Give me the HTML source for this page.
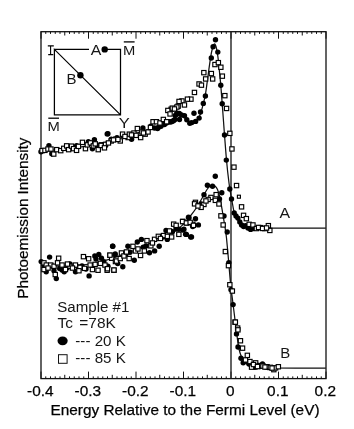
<!DOCTYPE html><html><head><meta charset="utf-8"><style>html,body{margin:0;padding:0;background:#fff;overflow:hidden}svg{display:block;filter:grayscale(1)}text{font-family:"Liberation Sans",sans-serif;fill:#000;stroke:#000;stroke-width:0.25px}text.l{stroke:none;fill:#161616}</style></head><body>
<svg width="354" height="429" viewBox="0 0 354 429"><g opacity="0.999">
<rect x="41.0" y="31.7" width="285.00" height="346.90" fill="none" stroke="#111" stroke-width="1.3"/>
<path d="M41.00 31.7v7M41.00 378.6v-7M45.75 31.7v2.2M45.75 378.6v-2.2M50.50 31.7v2.2M50.50 378.6v-2.2M55.25 31.7v2.2M55.25 378.6v-2.2M60.00 31.7v2.2M60.00 378.6v-2.2M64.75 31.7v3.8M64.75 378.6v-3.8M69.50 31.7v2.2M69.50 378.6v-2.2M74.25 31.7v2.2M74.25 378.6v-2.2M79.00 31.7v2.2M79.00 378.6v-2.2M83.75 31.7v2.2M83.75 378.6v-2.2M88.50 31.7v7M88.50 378.6v-7M93.25 31.7v2.2M93.25 378.6v-2.2M98.00 31.7v2.2M98.00 378.6v-2.2M102.75 31.7v2.2M102.75 378.6v-2.2M107.50 31.7v2.2M107.50 378.6v-2.2M112.25 31.7v3.8M112.25 378.6v-3.8M117.00 31.7v2.2M117.00 378.6v-2.2M121.75 31.7v2.2M121.75 378.6v-2.2M126.50 31.7v2.2M126.50 378.6v-2.2M131.25 31.7v2.2M131.25 378.6v-2.2M136.00 31.7v7M136.00 378.6v-7M140.75 31.7v2.2M140.75 378.6v-2.2M145.50 31.7v2.2M145.50 378.6v-2.2M150.25 31.7v2.2M150.25 378.6v-2.2M155.00 31.7v2.2M155.00 378.6v-2.2M159.75 31.7v3.8M159.75 378.6v-3.8M164.50 31.7v2.2M164.50 378.6v-2.2M169.25 31.7v2.2M169.25 378.6v-2.2M174.00 31.7v2.2M174.00 378.6v-2.2M178.75 31.7v2.2M178.75 378.6v-2.2M183.50 31.7v7M183.50 378.6v-7M188.25 31.7v2.2M188.25 378.6v-2.2M193.00 31.7v2.2M193.00 378.6v-2.2M197.75 31.7v2.2M197.75 378.6v-2.2M202.50 31.7v2.2M202.50 378.6v-2.2M207.25 31.7v3.8M207.25 378.6v-3.8M212.00 31.7v2.2M212.00 378.6v-2.2M216.75 31.7v2.2M216.75 378.6v-2.2M221.50 31.7v2.2M221.50 378.6v-2.2M226.25 31.7v2.2M226.25 378.6v-2.2M231.00 31.7v7M231.00 378.6v-7M235.75 31.7v2.2M235.75 378.6v-2.2M240.50 31.7v2.2M240.50 378.6v-2.2M245.25 31.7v2.2M245.25 378.6v-2.2M250.00 31.7v2.2M250.00 378.6v-2.2M254.75 31.7v3.8M254.75 378.6v-3.8M259.50 31.7v2.2M259.50 378.6v-2.2M264.25 31.7v2.2M264.25 378.6v-2.2M269.00 31.7v2.2M269.00 378.6v-2.2M273.75 31.7v2.2M273.75 378.6v-2.2M278.50 31.7v7M278.50 378.6v-7M283.25 31.7v2.2M283.25 378.6v-2.2M288.00 31.7v2.2M288.00 378.6v-2.2M292.75 31.7v2.2M292.75 378.6v-2.2M297.50 31.7v2.2M297.50 378.6v-2.2M302.25 31.7v3.8M302.25 378.6v-3.8M307.00 31.7v2.2M307.00 378.6v-2.2M311.75 31.7v2.2M311.75 378.6v-2.2M316.50 31.7v2.2M316.50 378.6v-2.2M321.25 31.7v2.2M321.25 378.6v-2.2M326.00 31.7v7M326.00 378.6v-7" stroke="#111" stroke-width="1" fill="none"/>
<path d="M231.00 31.7V378.6" stroke="#222" stroke-width="1.4"/>
<path d="M41.3 151.0C44.4 150.8 53.5 150.2 60.0 149.5C66.5 148.8 73.3 148.0 80.0 147.0C86.7 146.0 93.0 145.1 100.0 143.5C107.0 141.9 114.5 139.7 122.0 137.5C129.5 135.3 139.0 132.4 145.0 130.5C151.0 128.6 153.8 127.6 158.0 126.0C162.2 124.4 167.0 122.6 170.0 121.0C173.0 119.4 174.3 117.5 176.0 116.5C177.7 115.5 178.7 114.7 180.0 114.8C181.3 114.9 182.7 116.0 184.0 117.0C185.3 118.0 186.7 120.0 188.0 121.0C189.3 122.0 190.7 122.7 192.0 122.8C193.3 122.9 194.7 122.8 196.0 121.5C197.3 120.2 198.8 117.8 200.0 115.0C201.2 112.2 202.1 108.5 203.0 105.0C203.9 101.5 204.7 98.8 205.5 94.0C206.3 89.2 207.2 82.0 208.0 76.0C208.8 70.0 209.8 62.7 210.5 58.0C211.2 53.3 211.9 50.3 212.5 48.0C213.1 45.7 213.6 44.2 214.2 44.0C214.8 43.8 215.4 44.5 216.0 46.5C216.6 48.5 217.2 51.8 217.8 56.0C218.4 60.2 219.0 66.7 219.5 72.0C220.0 77.3 220.6 82.8 221.0 88.0C221.4 93.2 221.6 95.7 222.2 103.5C222.8 111.3 223.8 125.6 224.5 135.0C225.2 144.4 225.8 152.0 226.5 160.0C227.2 168.0 228.3 177.5 229.0 183.0C229.7 188.5 230.0 190.0 230.5 193.0C231.0 196.0 231.4 197.9 232.0 201.0C232.6 204.1 233.2 208.8 234.0 211.5C234.8 214.2 235.5 215.7 236.5 217.5C237.5 219.3 238.8 221.2 240.0 222.5C241.2 223.8 242.3 224.7 244.0 225.5C245.7 226.3 247.7 227.1 250.0 227.5C252.3 227.9 245.4 228.1 258.0 228.2C270.6 228.3 314.5 228.2 325.8 228.2" stroke="#111" stroke-width="1.25" fill="none"/>
<path d="M41.3 265.5C46.1 265.6 61.0 266.4 70.0 266.0C79.0 265.6 88.3 264.2 95.0 263.0C101.7 261.8 104.2 260.8 110.0 259.0C115.8 257.2 122.3 255.0 130.0 252.0C137.7 249.0 148.5 244.5 156.0 241.0C163.5 237.5 170.5 233.8 175.0 231.0C179.5 228.2 180.5 226.9 183.0 224.5C185.5 222.1 187.7 219.4 190.0 216.5C192.3 213.6 194.8 210.3 197.0 207.0C199.2 203.7 201.3 199.4 203.0 196.5C204.7 193.6 205.8 191.2 207.0 189.5C208.2 187.8 209.1 186.7 210.0 186.0C210.9 185.3 211.7 185.2 212.5 185.2C213.3 185.2 214.2 185.3 215.0 186.0C215.8 186.7 216.7 187.5 217.5 189.5C218.3 191.5 219.2 194.2 220.0 198.0C220.8 201.8 221.7 207.3 222.5 212.0C223.3 216.7 224.1 221.7 224.8 226.0C225.5 230.3 225.9 232.2 226.5 238.0C227.1 243.8 228.0 253.8 228.6 261.0C229.2 268.2 229.8 275.8 230.3 281.0C230.8 286.2 231.0 287.8 231.5 292.0C232.0 296.2 232.6 300.7 233.3 306.0C234.0 311.3 234.8 318.7 235.5 324.0C236.2 329.3 236.7 333.8 237.3 338.0C237.9 342.2 238.3 345.8 239.0 349.0C239.7 352.2 240.6 354.8 241.5 357.0C242.4 359.2 243.2 360.6 244.5 362.0C245.8 363.4 247.1 364.4 249.0 365.3C250.9 366.2 253.2 366.8 256.0 367.2C258.8 367.6 254.4 367.8 266.0 368.0C277.6 368.2 315.8 368.2 325.8 368.2" stroke="#111" stroke-width="1.25" fill="none"/>
<g fill="#000"><circle cx="215.5" cy="39.8" r="2.7"/><circle cx="213.1" cy="46.8" r="2.7"/><circle cx="217.8" cy="52.1" r="2.7"/><circle cx="211.3" cy="58.0" r="2.7"/><circle cx="220.8" cy="85.2" r="2.7"/><circle cx="205.4" cy="96.0" r="2.7"/><circle cx="203.3" cy="103.4" r="2.7"/><circle cx="222.2" cy="103.7" r="2.7"/><circle cx="200.5" cy="112.0" r="2.7"/><circle cx="194.0" cy="113.2" r="2.7"/><circle cx="199.1" cy="118.1" r="2.7"/><circle cx="195.6" cy="121.4" r="2.7"/><circle cx="189.8" cy="123.2" r="2.7"/><circle cx="184.5" cy="115.8" r="2.7"/><circle cx="186.8" cy="119.7" r="2.7"/><circle cx="179.3" cy="113.4" r="2.7"/><circle cx="176.8" cy="113.0" r="2.7"/><circle cx="174.7" cy="119.7" r="2.7"/><circle cx="172.0" cy="121.5" r="2.7"/><circle cx="224.5" cy="135.0" r="2.7"/><circle cx="226.3" cy="160.1" r="2.7"/><circle cx="229.8" cy="189.0" r="2.7"/><circle cx="231.5" cy="199.0" r="2.7"/><circle cx="234.2" cy="213.0" r="2.7"/><circle cx="237.9" cy="218.1" r="2.7"/><circle cx="241.6" cy="224.9" r="2.7"/><circle cx="245.5" cy="225.7" r="2.7"/><circle cx="250.6" cy="229.4" r="2.7"/><circle cx="236.0" cy="216.0" r="2.7"/><circle cx="239.8" cy="222.0" r="2.7"/><circle cx="243.6" cy="226.5" r="2.7"/><circle cx="248.0" cy="228.0" r="2.7"/><circle cx="253.0" cy="228.5" r="2.7"/><circle cx="41.0" cy="151.7" r="2.7"/><circle cx="48.9" cy="145.8" r="2.7"/><circle cx="51.8" cy="153.7" r="2.7"/><circle cx="76.6" cy="145.8" r="2.7"/><circle cx="88.4" cy="141.8" r="2.7"/><circle cx="94.4" cy="139.8" r="2.7"/><circle cx="92.4" cy="148.7" r="2.7"/><circle cx="97.3" cy="145.8" r="2.7"/><circle cx="107.2" cy="133.9" r="2.7"/><circle cx="107.9" cy="133.8" r="2.7"/><circle cx="111.3" cy="139.2" r="2.7"/><circle cx="117.0" cy="137.6" r="2.7"/><circle cx="122.6" cy="135.3" r="2.7"/><circle cx="131.6" cy="139.2" r="2.7"/><circle cx="142.9" cy="127.9" r="2.7"/><circle cx="150.8" cy="126.3" r="2.7"/><circle cx="157.6" cy="128.6" r="2.7"/><circle cx="161.0" cy="126.3" r="2.7"/><circle cx="168.9" cy="121.8" r="2.7"/><circle cx="173.4" cy="120.7" r="2.7"/><circle cx="178.0" cy="113.9" r="2.7"/><circle cx="179.5" cy="119.5" r="2.7"/><circle cx="154.5" cy="128.0" r="2.7"/><circle cx="164.5" cy="124.5" r="2.7"/><circle cx="160.8" cy="124.9" r="2.7"/><circle cx="163.2" cy="124.0" r="2.7"/><circle cx="158.5" cy="127.3" r="2.7"/><circle cx="175.3" cy="115.5" r="2.7"/><circle cx="166.5" cy="123.0" r="2.7"/><circle cx="170.5" cy="122.0" r="2.7"/><circle cx="181.5" cy="115.0" r="2.7"/><circle cx="191.8" cy="122.6" r="2.7"/><circle cx="215.3" cy="176.3" r="2.7"/><circle cx="207.4" cy="185.3" r="2.7"/><circle cx="212.5" cy="186.2" r="2.7"/><circle cx="221.8" cy="192.7" r="2.7"/><circle cx="204.0" cy="194.7" r="2.7"/><circle cx="219.5" cy="198.9" r="2.7"/><circle cx="188.5" cy="217.3" r="2.7"/><circle cx="195.5" cy="218.7" r="2.7"/><circle cx="198.4" cy="224.9" r="2.7"/><circle cx="192.7" cy="226.6" r="2.7"/><circle cx="182.8" cy="230.0" r="2.7"/><circle cx="185.6" cy="234.2" r="2.7"/><circle cx="190.7" cy="237.0" r="2.7"/><circle cx="227.2" cy="232.0" r="2.7"/><circle cx="228.8" cy="262.6" r="2.7"/><circle cx="231.0" cy="289.8" r="2.7"/><circle cx="233.1" cy="304.6" r="2.7"/><circle cx="236.5" cy="333.9" r="2.7"/><circle cx="238.0" cy="347.0" r="2.7"/><circle cx="241.0" cy="358.3" r="2.7"/><circle cx="243.2" cy="362.8" r="2.7"/><circle cx="246.0" cy="360.6" r="2.7"/><circle cx="254.5" cy="367.3" r="2.7"/><circle cx="258.0" cy="365.5" r="2.7"/><circle cx="262.5" cy="364.0" r="2.7"/><circle cx="265.8" cy="366.7" r="2.7"/><circle cx="270.4" cy="367.8" r="2.7"/><circle cx="249.0" cy="364.0" r="2.7"/><circle cx="251.5" cy="366.0" r="2.7"/><circle cx="256.5" cy="367.0" r="2.7"/><circle cx="260.0" cy="366.5" r="2.7"/><circle cx="263.5" cy="366.0" r="2.7"/><circle cx="268.0" cy="367.5" r="2.7"/><circle cx="272.5" cy="368.0" r="2.7"/><circle cx="41.2" cy="261.6" r="2.7"/><circle cx="49.6" cy="257.1" r="2.7"/><circle cx="46.2" cy="271.8" r="2.7"/><circle cx="56.3" cy="278.6" r="2.7"/><circle cx="54.0" cy="270.7" r="2.7"/><circle cx="59.7" cy="268.4" r="2.7"/><circle cx="64.2" cy="271.8" r="2.7"/><circle cx="70.0" cy="263.9" r="2.7"/><circle cx="75.5" cy="271.8" r="2.7"/><circle cx="89.1" cy="275.9" r="2.7"/><circle cx="94.8" cy="256.0" r="2.7"/><circle cx="98.8" cy="254.4" r="2.7"/><circle cx="101.5" cy="258.2" r="2.7"/><circle cx="103.8" cy="261.6" r="2.7"/><circle cx="107.9" cy="266.2" r="2.7"/><circle cx="112.8" cy="246.3" r="2.7"/><circle cx="115.0" cy="254.9" r="2.7"/><circle cx="112.6" cy="246.3" r="2.7"/><circle cx="115.2" cy="254.0" r="2.7"/><circle cx="117.7" cy="263.6" r="2.7"/><circle cx="122.8" cy="266.7" r="2.7"/><circle cx="127.9" cy="246.3" r="2.7"/><circle cx="130.0" cy="252.2" r="2.7"/><circle cx="134.3" cy="260.3" r="2.7"/><circle cx="137.3" cy="242.0" r="2.7"/><circle cx="141.4" cy="239.4" r="2.7"/><circle cx="143.2" cy="247.1" r="2.7"/><circle cx="149.5" cy="252.7" r="2.7"/><circle cx="154.6" cy="250.9" r="2.7"/><circle cx="159.2" cy="246.3" r="2.7"/><circle cx="166.0" cy="230.5" r="2.7"/><circle cx="167.3" cy="239.4" r="2.7"/><circle cx="172.4" cy="231.8" r="2.7"/><circle cx="178.8" cy="229.3" r="2.7"/><circle cx="183.9" cy="229.3" r="2.7"/><circle cx="186.4" cy="234.4" r="2.7"/><circle cx="191.5" cy="236.9" r="2.7"/><circle cx="189.0" cy="217.8" r="2.7"/><circle cx="44.0" cy="266.0" r="2.7"/><circle cx="52.0" cy="266.0" r="2.7"/><circle cx="62.0" cy="270.0" r="2.7"/><circle cx="67.0" cy="268.0" r="2.7"/><circle cx="78.0" cy="267.0" r="2.7"/><circle cx="82.0" cy="266.0" r="2.7"/><circle cx="86.0" cy="269.0" r="2.7"/><circle cx="96.0" cy="259.0" r="2.7"/><circle cx="126.0" cy="254.0" r="2.7"/><circle cx="146.0" cy="246.0" r="2.7"/><circle cx="163.0" cy="237.0" r="2.7"/><circle cx="176.0" cy="229.0" r="2.7"/><circle cx="201.0" cy="204.0" r="2.7"/><circle cx="224.0" cy="216.0" r="2.7"/></g>
<g fill="#fff" stroke="#000" stroke-width="1.15"><rect x="212.8" y="62.4" width="4.3" height="4.3"/><rect x="216.2" y="60.5" width="4.3" height="4.3"/><rect x="218.7" y="65.1" width="4.3" height="4.3"/><rect x="201.7" y="70.5" width="4.3" height="4.3"/><rect x="209.2" y="71.4" width="4.3" height="4.3"/><rect x="220.2" y="74.0" width="4.3" height="4.3"/><rect x="203.5" y="76.8" width="4.3" height="4.3"/><rect x="210.5" y="76.8" width="4.3" height="4.3"/><rect x="196.9" y="81.8" width="4.3" height="4.3"/><rect x="199.3" y="83.0" width="4.3" height="4.3"/><rect x="192.3" y="90.3" width="4.3" height="4.3"/><rect x="222.7" y="93.5" width="4.3" height="4.3"/><rect x="188.8" y="97.0" width="4.3" height="4.3"/><rect x="185.3" y="97.0" width="4.3" height="4.3"/><rect x="179.8" y="98.8" width="4.3" height="4.3"/><rect x="182.3" y="102.8" width="4.3" height="4.3"/><rect x="176.0" y="104.0" width="4.3" height="4.3"/><rect x="224.4" y="106.3" width="4.3" height="4.3"/><rect x="169.0" y="107.1" width="4.3" height="4.3"/><rect x="227.7" y="131.2" width="4.3" height="4.3"/><rect x="229.8" y="146.8" width="4.3" height="4.3"/><rect x="231.8" y="165.0" width="4.3" height="4.3"/><rect x="234.4" y="183.4" width="4.3" height="4.3"/><rect x="239.4" y="204.7" width="4.3" height="4.3"/><rect x="241.4" y="213.2" width="4.3" height="4.3"/><rect x="244.2" y="216.5" width="4.3" height="4.3"/><rect x="247.0" y="222.2" width="4.3" height="4.3"/><rect x="250.8" y="222.8" width="4.3" height="4.3"/><rect x="254.2" y="226.4" width="4.3" height="4.3"/><rect x="258.4" y="225.5" width="4.3" height="4.3"/><rect x="262.6" y="226.4" width="4.3" height="4.3"/><rect x="266.2" y="223.5" width="4.3" height="4.3"/><rect x="267.7" y="228.3" width="4.3" height="4.3"/><rect x="256.4" y="225.3" width="4.3" height="4.3"/><rect x="260.4" y="226.3" width="4.3" height="4.3"/><rect x="264.4" y="225.8" width="4.3" height="4.3"/><rect x="39.9" y="148.5" width="4.3" height="4.3"/><rect x="42.8" y="148.2" width="4.3" height="4.3"/><rect x="45.8" y="146.9" width="4.3" height="4.3"/><rect x="48.8" y="146.9" width="4.3" height="4.3"/><rect x="51.6" y="151.9" width="4.3" height="4.3"/><rect x="54.6" y="147.5" width="4.3" height="4.3"/><rect x="58.6" y="148.5" width="4.3" height="4.3"/><rect x="61.6" y="146.2" width="4.3" height="4.3"/><rect x="64.5" y="143.7" width="4.3" height="4.3"/><rect x="66.5" y="147.5" width="4.3" height="4.3"/><rect x="69.4" y="144.0" width="4.3" height="4.3"/><rect x="71.4" y="146.5" width="4.3" height="4.3"/><rect x="74.4" y="148.2" width="4.3" height="4.3"/><rect x="76.3" y="144.2" width="4.3" height="4.3"/><rect x="80.3" y="140.2" width="4.3" height="4.3"/><rect x="83.3" y="146.5" width="4.3" height="4.3"/><rect x="85.2" y="142.7" width="4.3" height="4.3"/><rect x="88.2" y="140.7" width="4.3" height="4.3"/><rect x="91.2" y="143.7" width="4.3" height="4.3"/><rect x="93.1" y="141.7" width="4.3" height="4.3"/><rect x="96.1" y="147.5" width="4.3" height="4.3"/><rect x="99.1" y="142.7" width="4.3" height="4.3"/><rect x="103.0" y="142.7" width="4.3" height="4.3"/><rect x="98.9" y="143.3" width="4.3" height="4.3"/><rect x="103.4" y="142.2" width="4.3" height="4.3"/><rect x="102.3" y="145.7" width="4.3" height="4.3"/><rect x="109.1" y="138.8" width="4.3" height="4.3"/><rect x="113.6" y="137.0" width="4.3" height="4.3"/><rect x="118.1" y="138.8" width="4.3" height="4.3"/><rect x="120.4" y="132.0" width="4.3" height="4.3"/><rect x="126.0" y="135.4" width="4.3" height="4.3"/><rect x="127.2" y="132.0" width="4.3" height="4.3"/><rect x="131.8" y="130.9" width="4.3" height="4.3"/><rect x="135.2" y="126.4" width="4.3" height="4.3"/><rect x="134.0" y="133.2" width="4.3" height="4.3"/><rect x="138.5" y="135.4" width="4.3" height="4.3"/><rect x="139.7" y="129.8" width="4.3" height="4.3"/><rect x="143.0" y="132.0" width="4.3" height="4.3"/><rect x="145.9" y="129.8" width="4.3" height="4.3"/><rect x="150.9" y="119.6" width="4.3" height="4.3"/><rect x="154.3" y="119.6" width="4.3" height="4.3"/><rect x="157.8" y="120.8" width="4.3" height="4.3"/><rect x="161.2" y="117.3" width="4.3" height="4.3"/><rect x="164.5" y="119.6" width="4.3" height="4.3"/><rect x="165.7" y="108.3" width="4.3" height="4.3"/><rect x="167.9" y="111.8" width="4.3" height="4.3"/><rect x="170.2" y="106.0" width="4.3" height="4.3"/><rect x="174.7" y="104.9" width="4.3" height="4.3"/><rect x="176.9" y="99.3" width="4.3" height="4.3"/><rect x="106.3" y="140.8" width="4.3" height="4.3"/><rect x="111.3" y="137.8" width="4.3" height="4.3"/><rect x="115.8" y="137.3" width="4.3" height="4.3"/><rect x="122.8" y="134.3" width="4.3" height="4.3"/><rect x="129.3" y="132.8" width="4.3" height="4.3"/><rect x="141.3" y="130.8" width="4.3" height="4.3"/><rect x="148.3" y="125.3" width="4.3" height="4.3"/><rect x="172.3" y="106.8" width="4.3" height="4.3"/><rect x="214.0" y="192.5" width="4.3" height="4.3"/><rect x="208.8" y="195.3" width="4.3" height="4.3"/><rect x="193.3" y="200.2" width="4.3" height="4.3"/><rect x="213.2" y="198.2" width="4.3" height="4.3"/><rect x="206.0" y="197.3" width="4.3" height="4.3"/><rect x="216.8" y="201.8" width="4.3" height="4.3"/><rect x="201.8" y="202.3" width="4.3" height="4.3"/><rect x="199.0" y="205.2" width="4.3" height="4.3"/><rect x="218.8" y="213.7" width="4.3" height="4.3"/><rect x="221.0" y="222.8" width="4.3" height="4.3"/><rect x="180.7" y="219.3" width="4.3" height="4.3"/><rect x="184.8" y="220.8" width="4.3" height="4.3"/><rect x="190.5" y="222.2" width="4.3" height="4.3"/><rect x="223.2" y="249.4" width="4.3" height="4.3"/><rect x="226.3" y="263.5" width="4.3" height="4.3"/><rect x="227.7" y="282.6" width="4.3" height="4.3"/><rect x="230.2" y="288.9" width="4.3" height="4.3"/><rect x="232.9" y="320.0" width="4.3" height="4.3"/><rect x="235.5" y="325.9" width="4.3" height="4.3"/><rect x="233.2" y="320.0" width="4.3" height="4.3"/><rect x="235.8" y="327.7" width="4.3" height="4.3"/><rect x="238.3" y="338.6" width="4.3" height="4.3"/><rect x="240.4" y="346.0" width="4.3" height="4.3"/><rect x="245.2" y="353.2" width="4.3" height="4.3"/><rect x="243.3" y="357.8" width="4.3" height="4.3"/><rect x="247.8" y="359.4" width="4.3" height="4.3"/><rect x="249.4" y="365.0" width="4.3" height="4.3"/><rect x="253.5" y="360.7" width="4.3" height="4.3"/><rect x="256.9" y="363.4" width="4.3" height="4.3"/><rect x="260.8" y="363.9" width="4.3" height="4.3"/><rect x="264.9" y="364.6" width="4.3" height="4.3"/><rect x="268.2" y="365.2" width="4.3" height="4.3"/><rect x="271.7" y="367.5" width="4.3" height="4.3"/><rect x="273.5" y="365.7" width="4.3" height="4.3"/><rect x="276.2" y="364.6" width="4.3" height="4.3"/><rect x="251.3" y="362.4" width="4.3" height="4.3"/><rect x="255.3" y="364.4" width="4.3" height="4.3"/><rect x="262.8" y="364.9" width="4.3" height="4.3"/><rect x="269.9" y="365.9" width="4.3" height="4.3"/><rect x="41.8" y="260.7" width="4.3" height="4.3"/><rect x="44.1" y="262.9" width="4.3" height="4.3"/><rect x="41.8" y="267.4" width="4.3" height="4.3"/><rect x="48.6" y="262.9" width="4.3" height="4.3"/><rect x="51.9" y="264.1" width="4.3" height="4.3"/><rect x="56.5" y="256.1" width="4.3" height="4.3"/><rect x="55.4" y="260.7" width="4.3" height="4.3"/><rect x="53.1" y="272.4" width="4.3" height="4.3"/><rect x="59.9" y="262.9" width="4.3" height="4.3"/><rect x="63.3" y="267.4" width="4.3" height="4.3"/><rect x="67.8" y="264.1" width="4.3" height="4.3"/><rect x="73.3" y="262.9" width="4.3" height="4.3"/><rect x="77.8" y="265.2" width="4.3" height="4.3"/><rect x="76.8" y="268.6" width="4.3" height="4.3"/><rect x="82.4" y="266.2" width="4.3" height="4.3"/><rect x="81.3" y="254.5" width="4.3" height="4.3"/><rect x="86.5" y="256.6" width="4.3" height="4.3"/><rect x="88.0" y="262.9" width="4.3" height="4.3"/><rect x="90.3" y="267.4" width="4.3" height="4.3"/><rect x="93.0" y="262.2" width="4.3" height="4.3"/><rect x="95.9" y="268.1" width="4.3" height="4.3"/><rect x="98.2" y="261.2" width="4.3" height="4.3"/><rect x="102.8" y="262.9" width="4.3" height="4.3"/><rect x="105.0" y="268.1" width="4.3" height="4.3"/><rect x="107.8" y="253.2" width="4.3" height="4.3"/><rect x="109.5" y="256.1" width="4.3" height="4.3"/><rect x="111.8" y="268.1" width="4.3" height="4.3"/><rect x="113.3" y="259.4" width="4.3" height="4.3"/><rect x="105.3" y="266.6" width="4.3" height="4.3"/><rect x="107.8" y="253.0" width="4.3" height="4.3"/><rect x="111.8" y="267.9" width="4.3" height="4.3"/><rect x="114.3" y="258.9" width="4.3" height="4.3"/><rect x="119.3" y="250.8" width="4.3" height="4.3"/><rect x="118.1" y="256.4" width="4.3" height="4.3"/><rect x="127.0" y="256.4" width="4.3" height="4.3"/><rect x="130.8" y="244.2" width="4.3" height="4.3"/><rect x="133.3" y="248.8" width="4.3" height="4.3"/><rect x="138.4" y="253.3" width="4.3" height="4.3"/><rect x="142.2" y="248.8" width="4.3" height="4.3"/><rect x="144.8" y="238.5" width="4.3" height="4.3"/><rect x="148.7" y="243.7" width="4.3" height="4.3"/><rect x="152.4" y="237.2" width="4.3" height="4.3"/><rect x="156.2" y="234.2" width="4.3" height="4.3"/><rect x="161.3" y="233.4" width="4.3" height="4.3"/><rect x="165.2" y="234.2" width="4.3" height="4.3"/><rect x="169.5" y="234.8" width="4.3" height="4.3"/><rect x="171.5" y="222.0" width="4.3" height="4.3"/><rect x="174.0" y="223.2" width="4.3" height="4.3"/><rect x="176.7" y="232.2" width="4.3" height="4.3"/><rect x="180.4" y="219.4" width="4.3" height="4.3"/><rect x="184.2" y="220.8" width="4.3" height="4.3"/><rect x="188.0" y="220.2" width="4.3" height="4.3"/><rect x="191.3" y="223.2" width="4.3" height="4.3"/><rect x="192.4" y="201.7" width="4.3" height="4.3"/><rect x="45.9" y="265.9" width="4.3" height="4.3"/><rect x="65.3" y="261.9" width="4.3" height="4.3"/><rect x="70.3" y="265.9" width="4.3" height="4.3"/><rect x="121.8" y="253.8" width="4.3" height="4.3"/><rect x="124.3" y="249.8" width="4.3" height="4.3"/><rect x="135.8" y="246.8" width="4.3" height="4.3"/><rect x="150.3" y="240.8" width="4.3" height="4.3"/><rect x="158.3" y="236.3" width="4.3" height="4.3"/><rect x="167.3" y="228.8" width="4.3" height="4.3"/><rect x="195.8" y="203.8" width="4.3" height="4.3"/><rect x="203.8" y="198.8" width="4.3" height="4.3"/><rect x="237.4" y="195.2" width="3" height="3"/></g>
<text x="40.30" y="395.7" font-size="15.4" text-anchor="middle">-0.4</text>
<text x="87.80" y="395.7" font-size="15.4" text-anchor="middle">-0.3</text>
<text x="135.30" y="395.7" font-size="15.4" text-anchor="middle">-0.2</text>
<text x="182.80" y="395.7" font-size="15.4" text-anchor="middle">-0.1</text>
<text x="230.30" y="395.7" font-size="15.4" text-anchor="middle">0</text>
<text x="277.80" y="395.7" font-size="15.4" text-anchor="middle">0.1</text>
<text x="325.30" y="395.7" font-size="15.4" text-anchor="middle">0.2</text>
<text x="50.5" y="414.6" font-size="15.4" textLength="269" lengthAdjust="spacingAndGlyphs">Energy Relative to the Fermi Level (eV)</text>
<text transform="translate(28.2,298.8) rotate(-90)" font-size="15.4" textLength="161.3" lengthAdjust="spacingAndGlyphs">Photoemission Intensity</text>
<path d="M54.4 49.4H89M104.7 49.4H120.5V114.9H54.4V49.4L120.5 114.9" stroke="#000" stroke-width="1.25" fill="none"/>
<circle cx="104.7" cy="49.4" r="3.2"/><circle cx="80.4" cy="75.2" r="3.2"/>
<path d="M47.8 45.9H53.8M50.6 45.9V54.6M48.2 54.6H53.3" stroke="#000" stroke-width="1.1" fill="none"/>
<text class="l" x="90.7" y="54.7" font-size="14.6" textLength="10.6" lengthAdjust="spacingAndGlyphs">A</text>
<text class="l" x="66.6" y="84" font-size="14.6" textLength="10" lengthAdjust="spacingAndGlyphs">B</text>
<text class="l" x="123" y="54.8" font-size="13.6" textLength="12.3" lengthAdjust="spacingAndGlyphs">M</text>
<path d="M123.8 41.9H134.6" stroke="#000" stroke-width="1.3"/>
<text class="l" x="47.5" y="131" font-size="13.6" textLength="12.3" lengthAdjust="spacingAndGlyphs">M</text>
<path d="M48.3 118.2H59" stroke="#000" stroke-width="1.3"/>
<text class="l" x="118.8" y="128.2" font-size="14.2" textLength="11" lengthAdjust="spacingAndGlyphs">Y</text>
<text class="l" x="279.6" y="218.2" font-size="15.2" textLength="10.6" lengthAdjust="spacingAndGlyphs">A</text>
<text class="l" x="280.3" y="358.2" font-size="15.2" textLength="10" lengthAdjust="spacingAndGlyphs">B</text>
<text class="l" x="57.3" y="312" font-size="15.4" textLength="72" lengthAdjust="spacingAndGlyphs">Sample #1</text>
<text class="l" x="57.5" y="328.2" font-size="15.4">Tc</text>
<text class="l" x="79.3" y="328.2" font-size="15.4" textLength="36.5" lengthAdjust="spacingAndGlyphs">=78K</text>
<ellipse cx="62.6" cy="340.8" rx="5.1" ry="4.4"/>
<text class="l" x="75.3" y="345.7" font-size="15.4" textLength="50.5" lengthAdjust="spacingAndGlyphs">--- 20 K</text>
<rect x="58.5" y="354.7" width="8.6" height="8.6" fill="#fff" stroke="#111" stroke-width="1"/>
<text class="l" x="75.3" y="363" font-size="15.4" textLength="50.5" lengthAdjust="spacingAndGlyphs">--- 85 K</text>
</g></svg></body></html>
